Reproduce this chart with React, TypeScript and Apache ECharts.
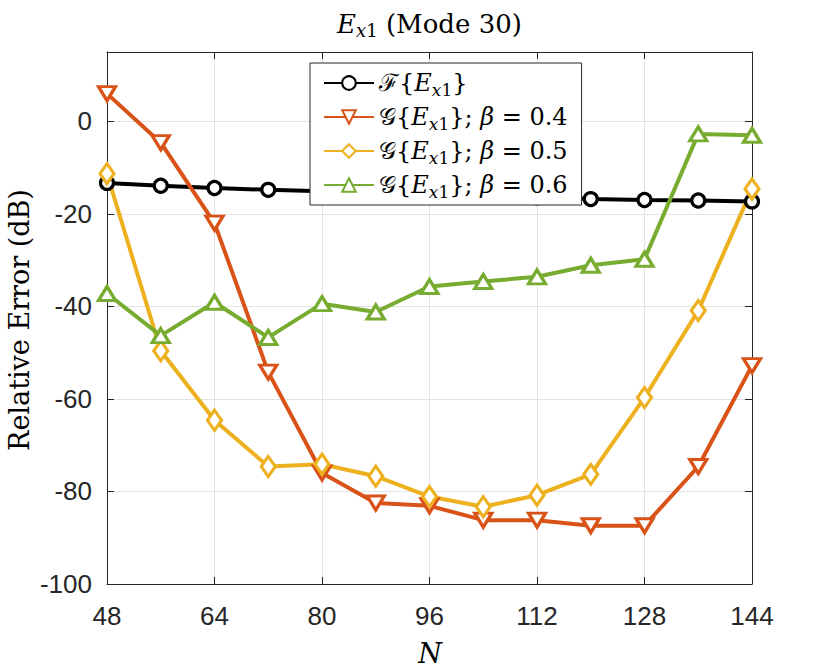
import React, { useEffect, useRef } from "react";
import * as echarts from "echarts";

const nValues = [48, 56, 64, 72, 80, 88, 96, 104, 112, 120, 128, 136, 144];
const fSeries = [-13.3, -13.9, -14.4, -14.8, -15.1, -15.4, -15.8, -16.0, -16.4, -16.8, -17.0, -17.1, -17.3];
const g04Series = [6.0, -4.6, -22.0, -54.2, -76.0, -82.5, -83.1, -86.2, -86.2, -87.4, -87.4, -74.6, -52.8];
const g05Series = [-11.3, -49.6, -64.6, -74.6, -74.1, -76.7, -81.1, -83.3, -80.8, -76.3, -59.7, -40.9, -14.6];
const g06Series = [-37.2, -46.3, -39.1, -46.7, -39.4, -41.2, -35.7, -34.6, -33.6, -31.1, -29.8, -2.7, -3.0];

const legendKeys = ["F", "G4", "G5", "G6"];
const legendTexts: Record<string, string> = {
  F: "ℱ{{i|E}{si|x}{s|1}}",
  G4: "𝒢{{i|E}{si|x}{s|1}}; {i|β} = 0.4",
  G5: "𝒢{{i|E}{si|x}{s|1}}; {i|β} = 0.5",
  G6: "𝒢{{i|E}{si|x}{s|1}}; {i|β} = 0.6",
};

const xMin = 48, xMax = 144, xStep = 16;
const yMin = -100, yMax = 15, yStep = 20;

const SERIF = "'DejaVu Serif', 'Liberation Serif', serif";
const SANS = "'Liberation Sans', Arial, Helvetica, sans-serif";
const AX = "#262626";

export default function App() {
  const ref = useRef<HTMLDivElement>(null);
  useEffect(() => {
    document.body.style.margin = "0";
    const chart = echarts.init(ref.current!, null, { renderer: "svg" });
    const pairs = (ys: number[]) => nValues.map((x, i) => [x, ys[i]]);
    const mkSeries = (name: string, ys: number[], color: string, symbol: string, size: any, rotate = 0) => ({
      type: "line",
      name,
      data: pairs(ys),
      symbol,
      symbolSize: size,
      symbolRotate: rotate,
      showAllSymbol: true,
      lineStyle: { color, width: 4 },
      itemStyle: { color: "#ffffff", borderColor: color, borderWidth: 3.2 },
      emphasis: { disabled: true },
      silent: true,
    });
    const axisCommon = {
      axisLine: { show: true, onZero: false, lineStyle: { color: AX, width: 1 } },
      axisTick: { show: true, inside: true, length: 7, lineStyle: { color: AX, width: 1 } },
    };
    const subRich = {
      i: { fontStyle: "italic" },
      si: { fontStyle: "italic", fontSize: 17, lineHeight: 15, verticalAlign: "bottom" },
      s: { fontSize: 17, lineHeight: 15, verticalAlign: "bottom" },
    };
    const option: any = {
      animation: false,
      grid: { left: 107, right: 78, top: 52, bottom: 86, containLabel: false },
      xAxis: [
        {
          type: "value", min: xMin, max: xMax, interval: xStep, position: "bottom",
          ...axisCommon,
          axisLabel: { show: true, margin: 19, color: AX, fontFamily: SANS, fontSize: 26 },
          splitLine: { show: true, lineStyle: { color: "#e3e3e3", width: 1 } },
        },
        {
          type: "value", min: xMin, max: xMax, interval: xStep, position: "top",
          ...axisCommon,
          axisLabel: { show: false },
          splitLine: { show: false },
        },
      ],
      yAxis: [
        {
          type: "value", min: yMin, max: yMax, interval: yStep, position: "left",
          ...axisCommon,
          axisLabel: {
            show: true, margin: 15, color: AX, fontFamily: SANS, fontSize: 26,
            formatter: (v: number) => (v > 0 ? "" : String(v)),
          },
          splitLine: { show: true, lineStyle: { color: "#e3e3e3", width: 1 } },
        },
        {
          type: "value", min: yMin, max: yMax, interval: yStep, position: "right",
          ...axisCommon,
          axisLabel: { show: false },
          splitLine: { show: false },
        },
      ],
      legend: {
        orient: "vertical",
        left: 310,
        top: 63,
        data: legendKeys,
        itemWidth: 50,
        itemHeight: 17,
        itemGap: 4,
        padding: [5, 14, 5, 13],
        backgroundColor: "#ffffff",
        borderColor: AX,
        borderWidth: 1,
        borderRadius: 0,
        selectedMode: false,
        formatter: (name: string) => legendTexts[name],
        textStyle: {
          fontFamily: SERIF, fontSize: 24, color: "#000", lineHeight: 30,
          rich: subRich,
        },
      },
      series: [
        mkSeries("F", fSeries, "#000000", "circle", 13),
        mkSeries("G4", g04Series, "#D95319", "triangle", [17, 14], 180),
        mkSeries("G5", g05Series, "#EDB120", "diamond", [14, 20]),
        mkSeries("G6", g06Series, "#77AC30", "triangle", [17, 14]),
      ],
      graphic: [
        {
          type: "text", x: 429.5, y: 24,
          style: {
            text: "{i|E}{si|x}{s|1} (Mode 30)",
            fontFamily: SERIF, fontSize: 26, fill: "#000", align: "center", verticalAlign: "middle",
            lineHeight: 30,
            rich: {
              i: { fontStyle: "italic", fontFamily: SERIF, fontSize: 26, lineHeight: 30 },
              si: { fontStyle: "italic", fontFamily: SERIF, fontSize: 18, lineHeight: 14, verticalAlign: "bottom" },
              s: { fontFamily: SERIF, fontSize: 18, lineHeight: 14, verticalAlign: "bottom" },
            },
          },
        },
        {
          type: "text", x: 19, y: 320, rotation: Math.PI / 2,
          style: {
            text: "Relative Error (dB)", fontFamily: SERIF, fontSize: 27, fill: "#000",
            align: "center", verticalAlign: "middle",
          },
        },
        {
          type: "text", x: 430, y: 653,
          style: {
            text: "N", fontFamily: SERIF, fontStyle: "italic", fontSize: 27, fill: "#000",
            align: "center", verticalAlign: "middle",
          },
        },
      ],
    };
    chart.setOption(option);
    return () => chart.dispose();
  }, []);
  return <div ref={ref} style={{ width: 830, height: 670 }} />;
}
